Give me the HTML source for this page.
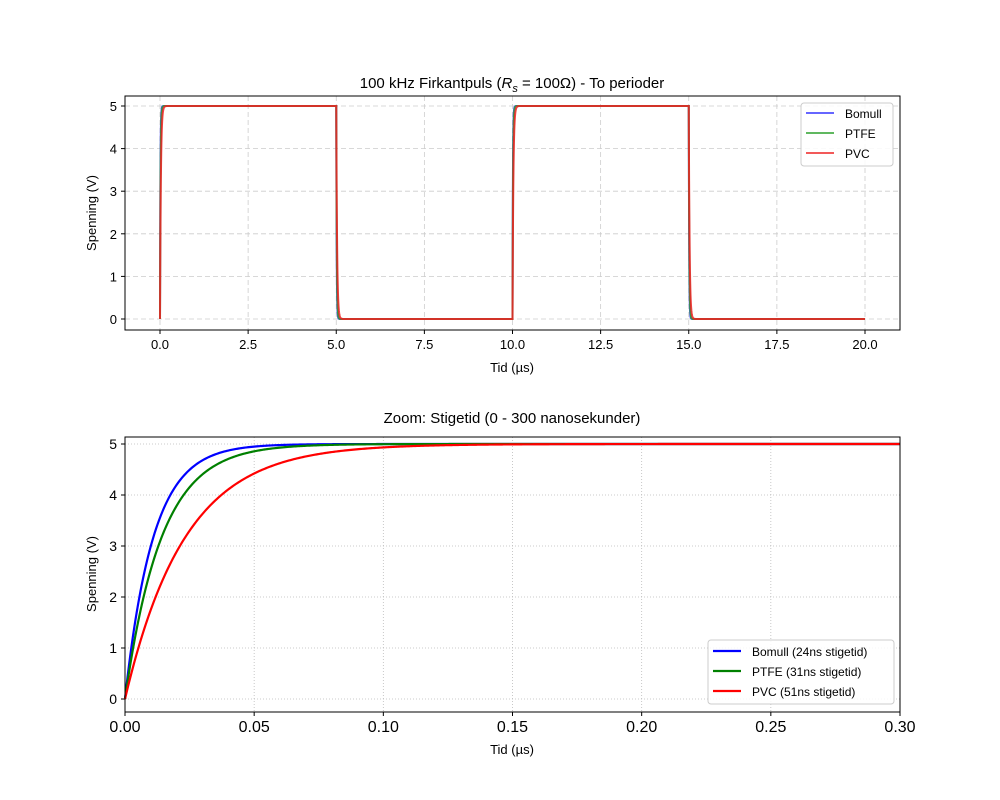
<!DOCTYPE html>
<html><head><meta charset="utf-8"><style>
body{margin:0;background:#fff}
svg{display:block;font-family:"Liberation Sans","DejaVu Sans",sans-serif}
</style></head><body>
<svg id="s" width="1000" height="800" xmlns="http://www.w3.org/2000/svg">
<rect width="1000" height="800" fill="#fff"/>
<g id="g1"></g><g id="g2"></g>
<text x="512" y="88" font-size="15" text-anchor="middle">100 kHz Firkantpuls (<tspan font-style="italic">R</tspan><tspan font-style="italic" font-size="11" dy="4">s</tspan><tspan dy="-4"> = 100Ω) - To perioder</tspan></text>
<text x="512" y="372" font-size="13" text-anchor="middle">Tid (µs)</text>
<text transform="translate(96,213) rotate(-90)" font-size="13" text-anchor="middle">Spenning (V)</text>
<text x="512" y="423" font-size="15" text-anchor="middle">Zoom: Stigetid (0 - 300 nanosekunder)</text>
<text x="512" y="754" font-size="13" text-anchor="middle">Tid (µs)</text>
<text transform="translate(96,574) rotate(-90)" font-size="13" text-anchor="middle">Spenning (V)</text>
</svg>
<script>
const NS="http://www.w3.org/2000/svg";
function el(p,t,a,txt){const e=document.createElementNS(NS,t);for(const k in a)e.setAttribute(k,a[k]);if(txt!==undefined)e.textContent=txt;p.appendChild(e);return e;}
const taus=[24/2.2,31/2.2,51/2.2];
const cols=["#0000ff","#008000","#ff0000"];
const g1=document.getElementById("g1");
const L1=125,R1=900,T1=96,B1=330;
const X1=t=>160+35.25*t, Y1=v=>319-42.6*v;
for(let t=0;t<=20;t+=2.5){const x=X1(t);el(g1,"line",{x1:x,x2:x,y1:T1,y2:B1,stroke:"#ccc","stroke-dasharray":"5,3","stroke-width":0.8});
el(g1,"line",{x1:x,x2:x,y1:B1,y2:B1+4,stroke:"#000"});el(g1,"text",{x:x,y:B1+19,"font-size":13,"text-anchor":"middle"},t.toFixed(1));}
for(let v=0;v<=5;v++){const y=Y1(v);el(g1,"line",{x1:L1,x2:R1,y1:y,y2:y,stroke:"#ccc","stroke-dasharray":"5,3","stroke-width":0.8});
el(g1,"line",{x1:L1-4,x2:L1,y1:y,y2:y,stroke:"#000"});el(g1,"text",{x:L1-8,y:y+5,"font-size":13,"text-anchor":"end"},v);}
const c1=["#3333ff","#2ca02c","#ee2222"];
taus.forEach((tau,i)=>{let d="";const tu=tau/1000;
for(let per=0;per<4;per++){for(let k=0;k<=120;k++){const tl=k<=60?k*0.005:0.3+(k-60)*(4.7/60);const t=per*5+tl;
 let v=per%2==0?5-5*Math.exp(-tl/tu):5*Math.exp(-tl/tu);
 d+=(d?"L":"M")+X1(t).toFixed(2)+","+Y1(v).toFixed(2);}}
el(g1,"path",{d:d,fill:"none",stroke:c1[i],"stroke-width":2,"stroke-opacity":0.85});});
el(g1,"rect",{x:L1,y:T1,width:R1-L1,height:B1-T1,fill:"none",stroke:"#000","stroke-width":1});
el(g1,"rect",{x:801,y:103,width:92,height:63,rx:3,fill:"#fff","fill-opacity":0.85,stroke:"#ccc"});
["Bomull","PTFE","PVC"].forEach((n,i)=>{const y=113+20*i;el(g1,"line",{x1:806,x2:834,y1:y,y2:y,stroke:c1[i],"stroke-width":1.6});
el(g1,"text",{x:845,y:y+5,"font-size":12},n);});
const g2=document.getElementById("g2");
const L2=125,R2=900,T2=437,B2=712;
const X2=t=>L2+(R2-L2)*t/0.3, Y2=v=>699-51*v;
for(let i=0;i<=6;i++){const t=i*0.05,x=X2(t);el(g2,"line",{x1:x,x2:x,y1:T2,y2:B2,stroke:"#bbb","stroke-dasharray":"1,2","stroke-width":0.8});
el(g2,"line",{x1:x,x2:x,y1:B2,y2:B2+4,stroke:"#000"});el(g2,"text",{x:x,y:B2+20,"font-size":16,"text-anchor":"middle"},t.toFixed(2));}
for(let v=0;v<=5;v++){const y=Y2(v);el(g2,"line",{x1:L2,x2:R2,y1:y,y2:y,stroke:"#bbb","stroke-dasharray":"1,2","stroke-width":0.8});
el(g2,"line",{x1:L2-4,x2:L2,y1:y,y2:y,stroke:"#000"});el(g2,"text",{x:L2-8,y:y+5,"font-size":14,"text-anchor":"end"},v);}
taus.forEach((tau,i)=>{let d="";const tu=tau/1000;
for(let k=0;k<=600;k++){const t=k*0.3/600;const v=5-5*Math.exp(-t/tu);
 d+=(k?"L":"M")+X2(t).toFixed(2)+","+Y2(v).toFixed(2);}
el(g2,"path",{d:d,fill:"none",stroke:cols[i],"stroke-width":2.2});});
el(g2,"rect",{x:L2,y:T2,width:R2-L2,height:B2-T2,fill:"none",stroke:"#000","stroke-width":1});
el(g2,"rect",{x:708,y:640,width:186,height:64,rx:3,fill:"#fff","fill-opacity":0.85,stroke:"#ccc"});
["Bomull (24ns stigetid)","PTFE (31ns stigetid)","PVC (51ns stigetid)"].forEach((n,i)=>{const y=651+20*i;el(g2,"line",{x1:713,x2:741,y1:y,y2:y,stroke:cols[i],"stroke-width":2.2});
el(g2,"text",{x:752,y:y+5,"font-size":12},n);});
</script>
</body></html>
